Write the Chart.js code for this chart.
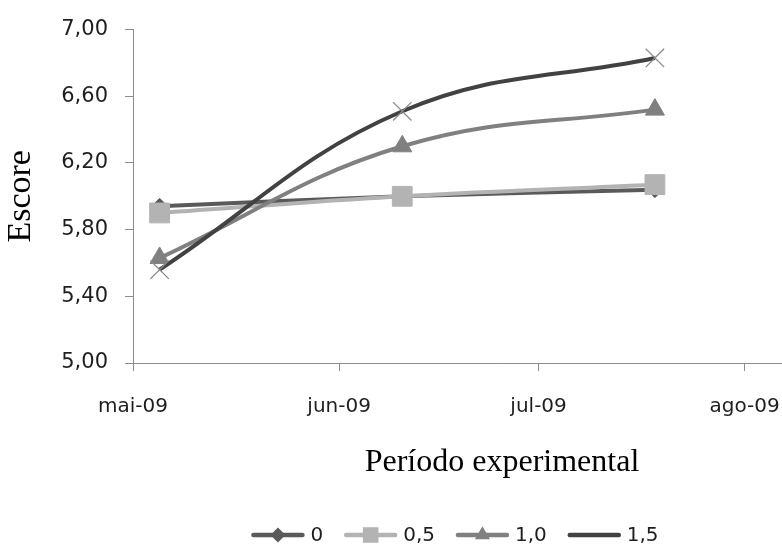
<!DOCTYPE html>
<html>
<head>
<meta charset="utf-8">
<script src="https://cdn.jsdelivr.net/npm/chart.js@4.4.0/dist/chart.umd.min.js"></script>
<style>
  html, body { margin: 0; padding: 0; background: #fff; overflow: hidden; }
  #wrap { width: 782px; height: 548px; overflow: hidden; }
  canvas { display: block; }
</style>
</head>
<body>
<div id="wrap"><canvas id="grafico" width="886" height="548"></canvas></div>
<script>
// dias contados a partir de 1 de maio de 2009
const diasColeta = [4, 40.5, 78.5];
const tratamentos = ['0', '0,5', '1,0', '1,5'];
const escore0 = [5.94, 6.00, 6.04];
const escore05 = [5.90, 6.00, 6.07];
const escore10 = [5.63, 6.30, 6.52];
const escore15 = [5.56, 6.51, 6.83];
const posMeses = [0, 31, 61, 92];
const rotulosMeses = ['mai-09', 'jun-09', 'jul-09', 'ago-09'];
const ticksEscore = [5.0, 5.4, 5.8, 6.2, 6.6, 7.0];

const series = [escore0, escore05, escore10, escore15];
const cores = ['#5a5a5a', '#b3b3b3', '#808080', '#424242'];
const marcadores = ['rectRot', 'rect', 'triangle', 'crossRot'];
const raios = [8, 14, 11, 13];
const raiosLegenda = [7.5, 11, 8.7, 12.5];

const fonteSans = 'DejaVu Sans';
const fonteSerif = 'Liberation Serif';

const datasets = series.map((vals, i) => ({
  label: tratamentos[i],
  data: vals.map((v, j) => ({ x: diasColeta[j], y: v })),
  borderColor: cores[i],
  backgroundColor: cores[i],
  borderWidth: 4,
  tension: 0.4,
  pointStyle: marcadores[i],
  pointRadius: raios[i],
  pointBackgroundColor: cores[i],
  pointBorderColor: marcadores[i] === 'crossRot' ? '#8a8a8a' : cores[i],
  pointBorderWidth: marcadores[i] === 'crossRot' ? 1.3 : 1,
  order: 3 - i
}));

// legenda no estilo Excel: linha + marcador
const legendaExcel = {
  id: 'legendaExcel',
  afterDraw(chart) {
    const ctx = chart.ctx;
    const yLeg = 535;
    const linha = 53, gap = 6, espaco = 21;
    ctx.save();
    ctx.font = '20px "' + fonteSans + '"';
    const larguras = chart.data.datasets.map(d => ctx.measureText(d.label).width);
    const total = larguras.reduce((a, w) => a + linha + gap + w, 0) + espaco * (larguras.length - 1);
    let x = 455 - total / 2;
    chart.data.datasets.forEach((d, i) => {
      ctx.strokeStyle = d.borderColor;
      ctx.lineWidth = 4.5;
      ctx.lineCap = 'round';
      ctx.beginPath();
      ctx.moveTo(x + 2, yLeg);
      ctx.lineTo(x + linha - 2, yLeg);
      ctx.stroke();
      ctx.fillStyle = d.pointBackgroundColor;
      ctx.strokeStyle = d.pointBorderColor;
      ctx.lineWidth = d.pointBorderWidth;
      Chart.helpers.drawPoint(ctx, { pointStyle: d.pointStyle, radius: raiosLegenda[i], rotation: 0 }, x + linha / 2, yLeg);
      ctx.fillStyle = '#1e1e1e';
      ctx.textAlign = 'left';
      ctx.textBaseline = 'middle';
      ctx.fillText(d.label, x + linha + gap, yLeg + 1);
      x += linha + gap + larguras[i] + espaco;
    });
    ctx.restore();
  }
};

new Chart(document.getElementById('grafico'), {
  type: 'line',
  data: { datasets },
  plugins: [legendaExcel],
  options: {
    responsive: false,
    animation: false,
    devicePixelRatio: 1,
    layout: { padding: { top: 29, right: 0, bottom: 0, left: 0 } },
    plugins: { legend: { display: false }, tooltip: { enabled: false } },
    scales: {
      x: {
        type: 'linear',
        min: 0,
        max: 111,
        afterBuildTicks: s => { s.ticks = posMeses.map(v => ({ value: v })); },
        afterFit: s => { s.height = 185; },
        ticks: {
          autoSkip: false,
          maxRotation: 0,
          padding: 24,
          color: '#1e1e1e',
          font: { family: fonteSans, size: 20 },
          callback: v => rotulosMeses[posMeses.indexOf(v)]
        },
        grid: { drawOnChartArea: false, drawTicks: true, tickLength: 8, color: '#8c8c8c' },
        border: { color: '#8c8c8c', width: 1 },
        title: {
          display: true,
          text: 'Período experimental',
          color: '#000',
          font: { family: fonteSerif, size: 32 },
          padding: { top: 0, bottom: 66 }
        }
      },
      y: {
        min: 5,
        max: 7,
        afterBuildTicks: s => { s.ticks = ticksEscore.map(v => ({ value: v })); },
        afterFit: s => { s.width = 133; },
        ticks: {
          padding: 17,
          color: '#1e1e1e',
          font: { family: fonteSans, size: 21 },
          callback: v => v.toFixed(2).replace('.', ',')
        },
        grid: { drawOnChartArea: false, drawTicks: true, tickLength: 8, color: '#8c8c8c' },
        border: { color: '#8c8c8c', width: 1 },
        title: {
          display: true,
          text: 'Escore',
          color: '#000',
          font: { family: fonteSerif, size: 34 },
          padding: { top: 1, bottom: 0 }
        }
      }
    }
  }
});
</script>
</body>
</html>
